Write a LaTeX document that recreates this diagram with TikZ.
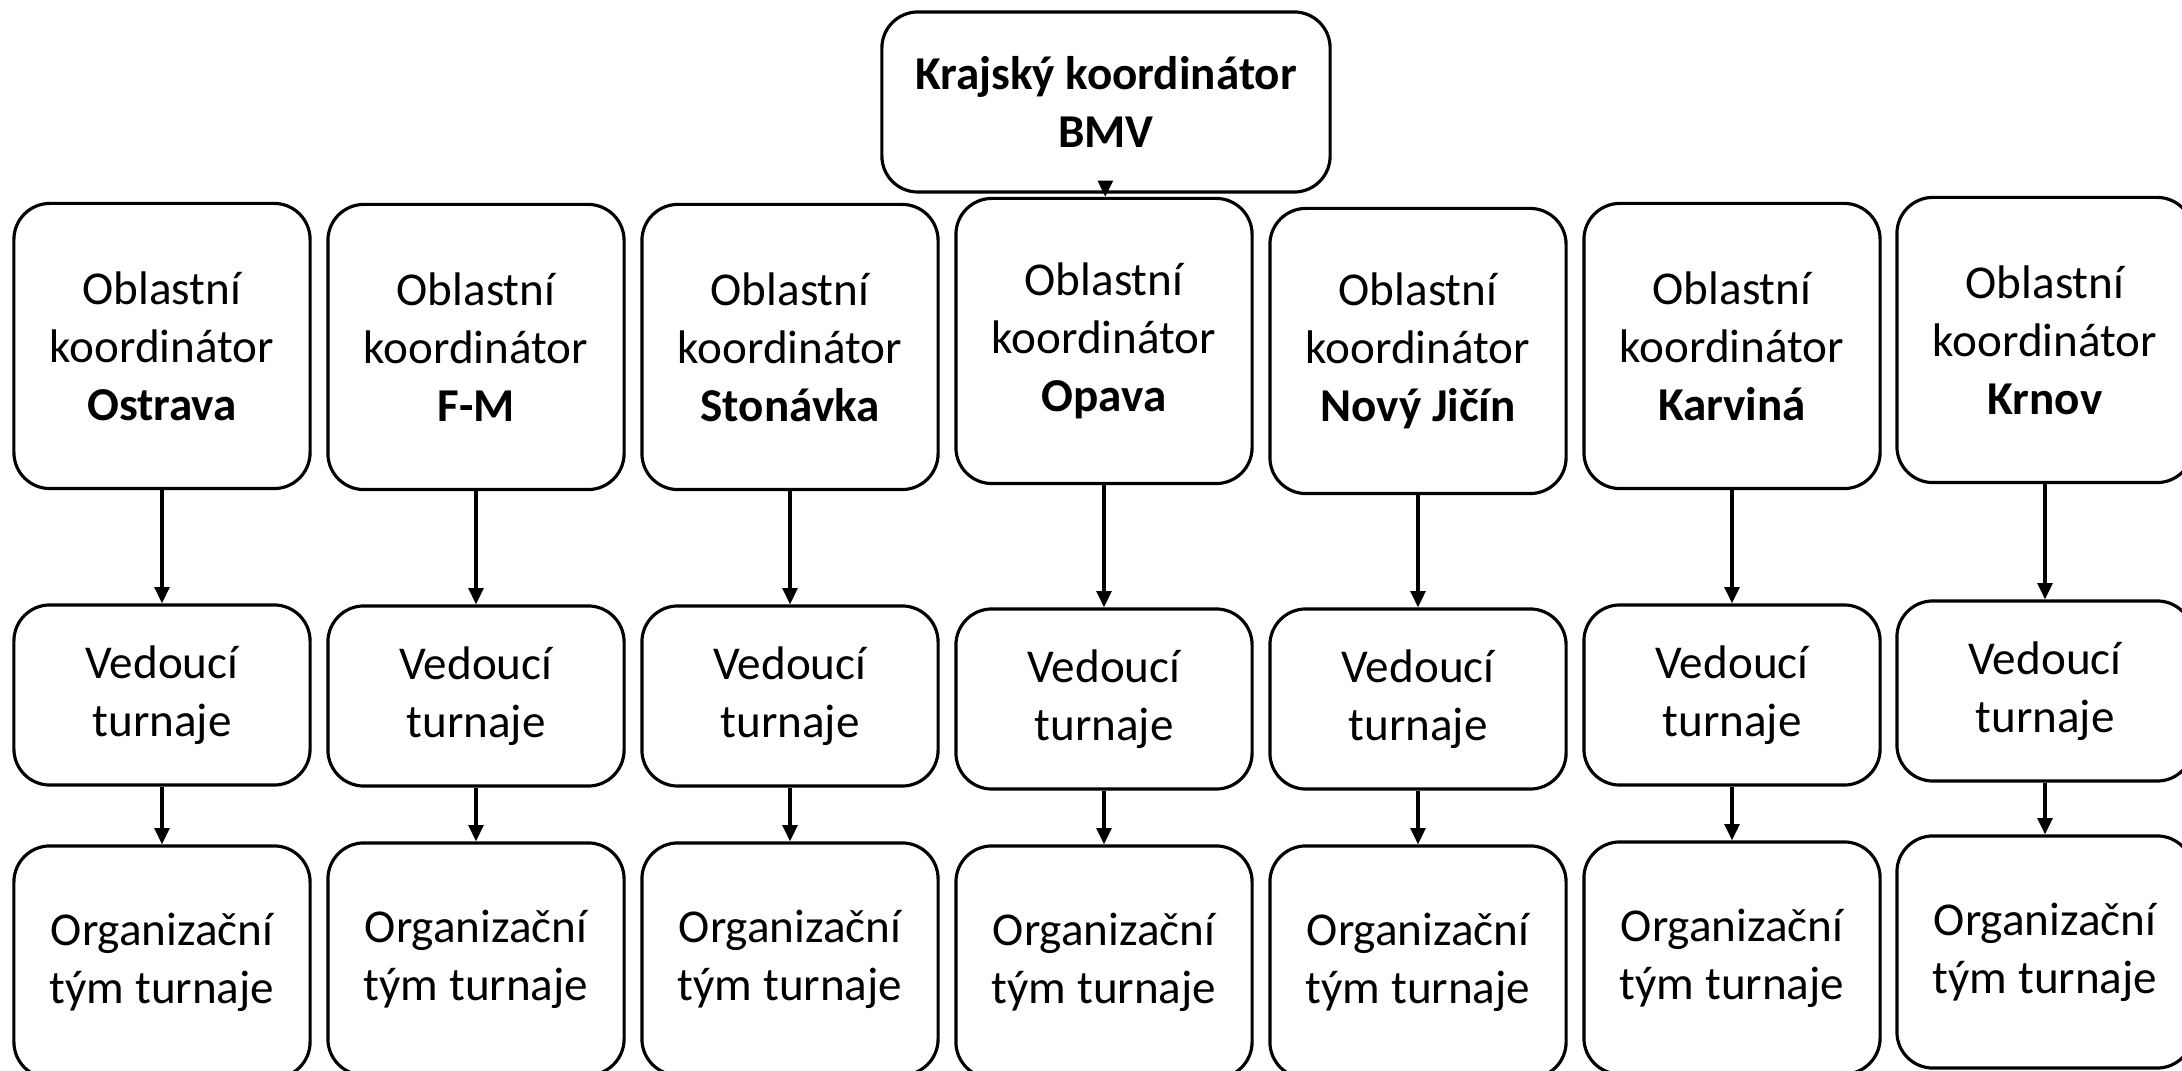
\documentclass[tikz,border=0pt]{standalone}
\usepackage{fontspec}
\setmainfont{Carlito}
\usetikzlibrary{arrows.meta}
\begin{document}
\begin{tikzpicture}[x=0.01cm, y=-0.01cm, line width=0.9pt]
\tikzstyle{box}=[draw,rounded corners=0.36cm,align=center,inner sep=0pt,
  minimum width=2.96cm,font=\fontsize{13.4}{16.5}\selectfont]
\tikzstyle{area}=[box,minimum height=2.85cm]
\tikzstyle{lead}=[box,minimum height=1.80cm]
\tikzstyle{team}=[box,minimum height=2.32cm]
\tikzstyle{link}=[-{Triangle[width=4.2pt,length=4.6pt]}]
\useasboundingbox (0,0) rectangle (2182,1071);
  \node[box,minimum width=4.48cm,minimum height=1.8cm,
        font=\fontsize{13.4}{16.5}\selectfont\bfseries] (kraj) at (1106,102)
        {Krajský koordinátor\\BMV};
  \foreach \x/\ya/\yb/\yc/\name/\town in {{162/346/695/962/ostrava/Ostrava},
                                         {476/347/696/959/fm/F-M},
                                         {790/347/696/959/stonavka/Stonávka},
                                         {1104/341/699/962/opava/Opava},
                                         {1418/351/699/962/jicin/Nový Jičín},
                                         {1732/346/695/958/karvina/Karviná},
                                         {2045/340/691/952/krnov/Krnov}}
  {
    \node[area] (\name) at (\x,\ya) {Oblastní\\koordinátor\\\textbf{\town}};
    \node[lead] (\name-ved) at (\x,\yb) {Vedoucí\\turnaje};
    \node[team] (\name-tym) at (\x,\yc) {Organizační\\tým turnaje};
    \draw[link] (\name) -- (\name-ved);
    \draw[link] (\name-ved) -- (\name-tym);
  }
  \draw[link] (kraj) -- (opava);
\end{tikzpicture}
\end{document}
